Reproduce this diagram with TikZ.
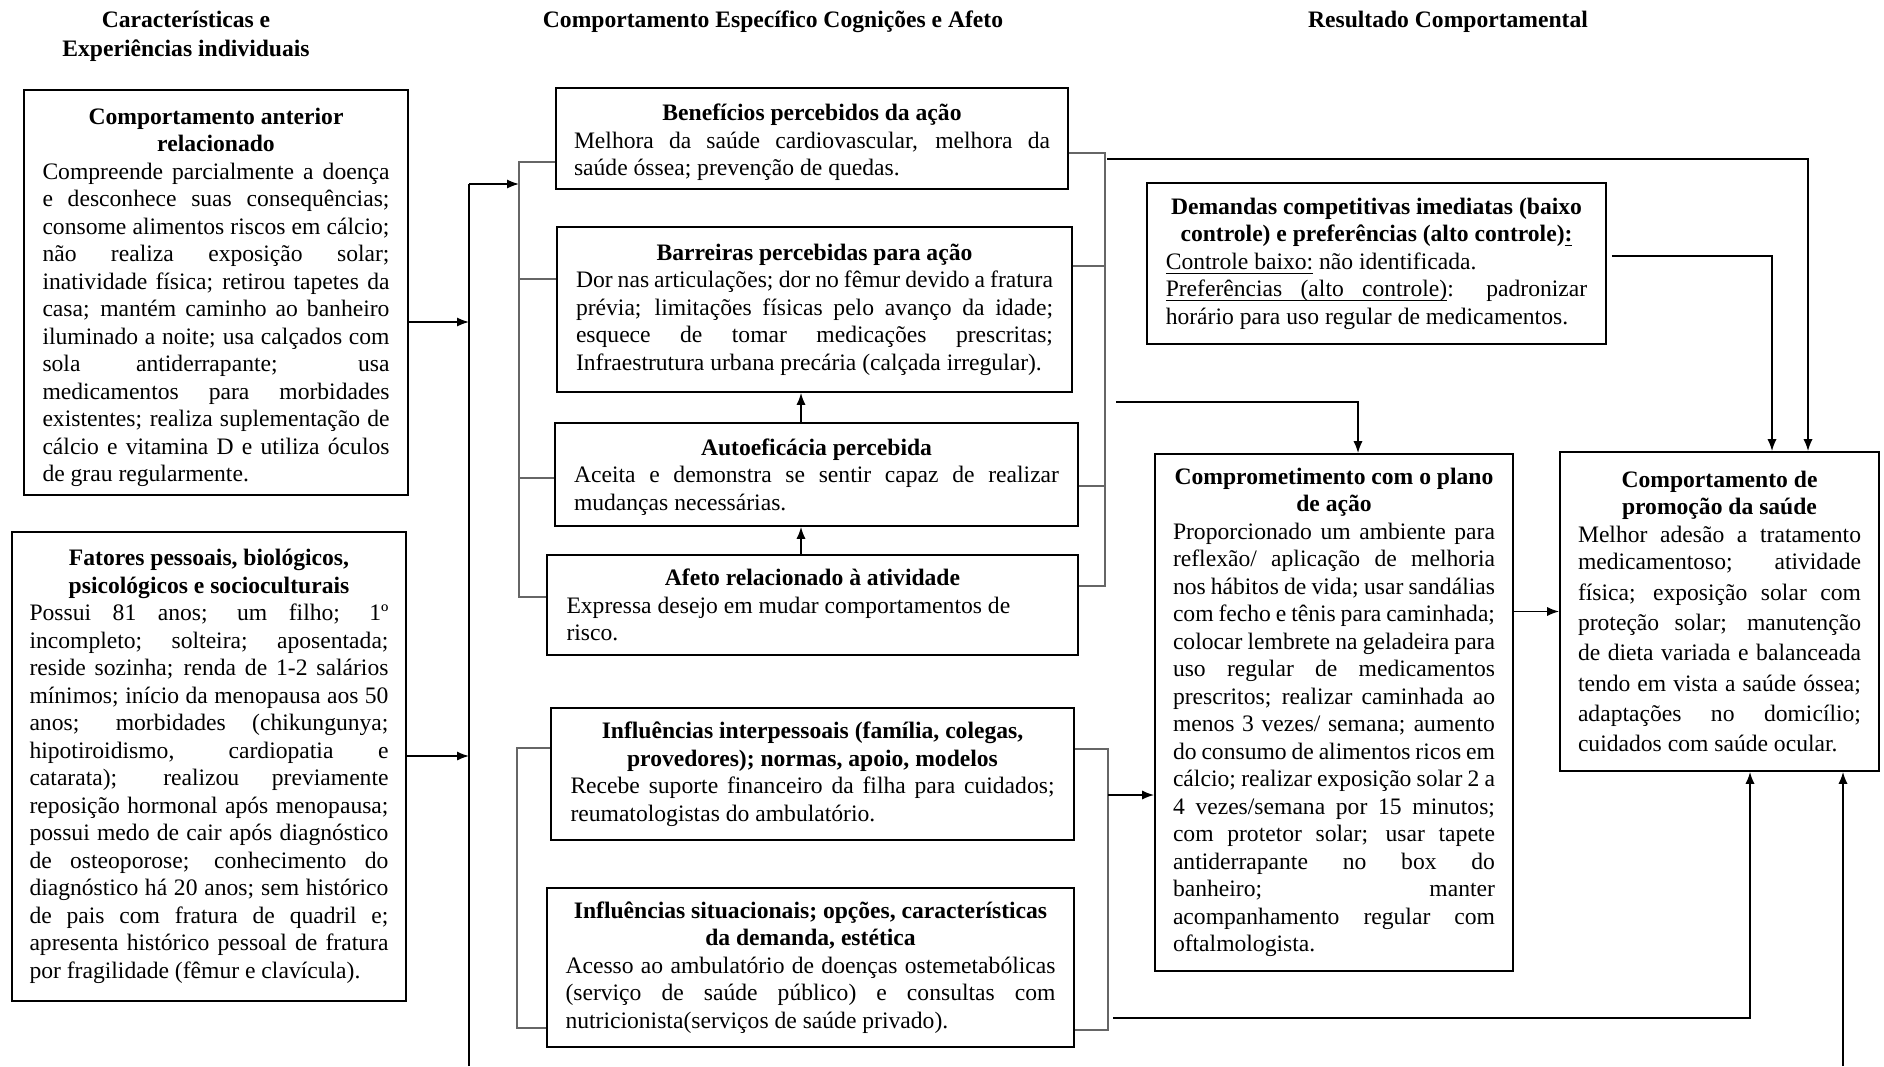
\documentclass[tikz,border=0pt]{standalone}
\usepackage{fontspec}
\setmainfont{Liberation Serif}
\usetikzlibrary{arrows.meta,calc}
\setlength{\parindent}{0pt}
\setlength{\parskip}{0pt}

% one line of a box: centred bold title line, or a line stretched to full width
\newcommand\ttline[1]{\makebox[\hsize][c]{\bfseries #1}}
\newcommand\jline[1]{\makebox[\hsize][s]{\spaceskip=0pt\xspaceskip=0pt #1}}
% underlined word at a fixed depth, and an underlined stretchable space
\newcommand\ulword[1]{\leavevmode\setbox0\hbox{#1}\rlap{\rule[-2.3pt]{\wd0}{0.55pt}}\box0\relax}
\newcommand\ulgap{\leavevmode\leaders\hrule height -1.75pt depth 2.3pt\hskip\fontdimen2\font plus\fontdimen3\font minus\fontdimen4\font\relax}

\tikzset{
  box/.style={draw=black, line width=0.9pt, inner sep=0pt, align=justify,
    font=\fontsize{11.8pt}{13.75pt}\selectfont},
  head/.style={inner sep=0pt, align=center,
    font=\fontsize{11.8pt}{14.5pt}\selectfont\bfseries},
  brk/.style={draw=black!60, line width=0.6pt},
  conn/.style={draw=black, line width=0.8pt},
  arr/.style={conn, -{Latex[length=6pt,width=4.6pt]}},
}

\begin{document}
\begin{tikzpicture}[x=0.5pt,y=-0.5pt]
\fill[white] (0,0) rectangle (1884,1066);
\useasboundingbox (0,0) rectangle (1884,1066);

% column headings
\node[head] (hdChar) at (186,36) {Características e\\Experiências individuais};
\node[head] (hdComp) at (773,21.5) {Comportamento Específico Cognições e Afeto};
\node[head] (hdRes) at (1448,21.5) {Resultado Comportamental};

% ---- left column
\node[box, text width=173.5pt, minimum width=192pt, minimum height=202.5pt] (antr) at (216,292.5) {%
\ttline{\rule{0pt}{12.8pt}Comportamento anterior}\\
\ttline{relacionado}\\
\jline{Compreende parcialmente a doença}\\
\jline{e desconhece suas consequências;}\\
\jline{consome alimentos riscos em cálcio;}\\
\jline{não realiza exposição solar;}\\
\jline{inatividade física; retirou tapetes da}\\
\jline{casa; mantém caminho ao banheiro}\\
\jline{iluminado a noite; usa calçados com}\\
\jline{sola antiderrapante; usa}\\
\jline{medicamentos para morbidades}\\
\jline{existentes; realiza suplementação de}\\
\jline{cálcio e vitamina D e utiliza óculos}\\
de grau regularmente.};

\node[box, text width=179.5pt, minimum width=197pt, minimum height=234.5pt] (fat) at (209,766.5) {%
\ttline{Fatores pessoais, biológicos,}\\
\ttline{psicológicos e socioculturais}\\
\jline{Possui 81 anos; um filho; 1º}\\
\jline{incompleto; solteira; aposentada;}\\
\jline{reside sozinha; renda de 1-2 salários}\\
\jline{mínimos; início da menopausa aos 50}\\
\jline{anos; morbidades (chikungunya;}\\
\jline{hipotiroidismo, cardiopatia e}\\
\jline{catarata); realizou previamente}\\
\jline{reposição hormonal após menopausa;}\\
\jline{possui medo de cair após diagnóstico}\\
\jline{de osteoporose; conhecimento do}\\
\jline{diagnóstico há 20 anos; sem histórico}\\
\jline{de pais com fratura de quadril e;}\\
\jline{apresenta histórico pessoal de fratura}\\
por fragilidade (fêmur e clavícula).};

% ---- middle column
\node[box, text width=238pt, minimum width=256pt, minimum height=50.5pt] (bene) at (812,138.5) {%
\ttline{\rule{0pt}{12.2pt}Benefícios percebidos da ação}\\
\jline{Melhora da saúde cardiovascular, melhora da}\\
saúde óssea; prevenção de quedas.};

\node[box, text width=238.5pt, minimum width=257.5pt, minimum height=82.5pt] (barr) at (814.5,309.5) {%
\ttline{Barreiras percebidas para ação}\\
\jline{Dor nas articulações; dor no fêmur devido a fratura}\\
\jline{prévia; limitações físicas pelo avanço da idade;}\\
\jline{esquece de tomar medicações prescritas;}\\
Infraestrutura urbana precária (calçada irregular).};

\node[box, text width=242.5pt, minimum width=261.5pt, minimum height=51.5pt] (auto) at (816.5,474.5) {%
\ttline{\rule{0pt}{11pt}Autoeficácia percebida}\\
\jline{Aceita e demonstra se sentir capaz de realizar}\\
mudanças necessárias.};

\node[box, text width=246pt, minimum width=265.5pt, minimum height=50pt] (afeto) at (812.5,605) {%
\ttline{Afeto relacionado à atividade}\\
Expressa desejo em mudar comportamentos de\\
risco.};

\node[box, text width=242pt, minimum width=261.5pt, minimum height=66pt] (infA) at (812.5,774) {%
\ttline{Influências interpessoais (família, colegas,}\\
\ttline{provedores); normas, apoio, modelos}\\
\jline{Recebe suporte financeiro da filha para cuidados;}\\
reumatologistas do ambulatório.};

\node[box, text width=245pt, minimum width=263.5pt, minimum height=79.5pt] (infB) at (810.5,967.5) {%
\ttline{Influências situacionais; opções, características}\\
\ttline{da demanda, estética}\\
\jline{Acesso ao ambulatório de doenças ostemetabólicas}\\
\jline{(serviço de saúde público) e consultas com}\\
nutricionista(serviços de saúde privado).};

% ---- right part
\node[box, text width=210.75pt, minimum width=229.5pt, minimum height=80.5pt] (dem) at (1376.5,263.5) {%
\ttline{Demandas competitivas imediatas (baixo}\\
\ttline{controle) e preferências (alto controle)\ulword{:}}\\
\ulword{Controle}\ulgap\ulword{baixo:} não identificada.\\
\jline{\ulword{Preferências}\ulgap\ulword{(alto}\ulgap\ulword{controle)}: padronizar}\\
horário para uso regular de medicamentos.};

\node[box, text width=161pt, minimum width=179pt, minimum height=258.5pt] (comp) at (1334,712.5) {%
\ttline{Comprometimento com o plano}\\
\ttline{de ação}\\
\jline{Proporcionado um ambiente para}\\
\jline{reflexão/ aplicação de melhoria}\\
\jline{nos hábitos de vida; usar sandálias}\\
\jline{com fecho e tênis para caminhada;}\\
\jline{colocar lembrete na geladeira para}\\
\jline{uso regular de medicamentos}\\
\jline{prescritos; realizar caminhada ao}\\
\jline{menos 3 vezes/ semana; aumento}\\
\jline{do consumo de alimentos ricos em}\\
\jline{cálcio; realizar exposição solar 2 a}\\
\jline{4 vezes/semana por 15 minutos;}\\
\jline{com protetor solar; usar tapete}\\
\jline{antiderrapante no box do}\\
\jline{banheiro; manter}\\
\jline{acompanhamento regular com}\\
oftalmologista.};

% the outcome box has a looser line pitch in its body
\node[box, text width=141.5pt, minimum width=159.5pt, minimum height=159.5pt] (promo) at (1719.5,611.5) {%
\ttline{Comportamento de}\\
\ttline{promoção da saúde}\\
\jline{Melhor adesão a tratamento}\\
\jline{medicamentoso; atividade}\\[1.4pt]
\jline{física; exposição solar com}\\[1.4pt]
\jline{proteção solar; manutenção}\\[1.4pt]
\jline{de dieta variada e balanceada}\\[1.4pt]
\jline{tendo em vista a saúde óssea;}\\[1.4pt]
\jline{adaptações no domicílio;}\\[1.4pt]
cuidados com saúde ocular.};

% ---- trunk collecting the two left boxes
\coordinate (trunkTop) at (469,184);
\coordinate (trunkBot) at (469,1066);
\coordinate (antrOut) at ($(antr.east)+(0,29.5)$);
\coordinate (fatOut) at ($(fat.east)+(0,-10.5)$);
\draw[conn] (trunkBot) -- (trunkTop);
\draw[arr] (antrOut) -- (antrOut -| trunkTop);
\draw[arr] (fatOut) -- (fatOut -| trunkTop);

% ---- brackets around the upper middle group
\coordinate (lbA) at (519,162);
\coordinate (lbB) at (519,279);
\coordinate (lbC) at (519,478);
\coordinate (lbD) at (519,597);
\draw[arr] (trunkTop) -- (trunkTop -| lbA);
\draw[brk] (bene.west |- lbA) -- (lbA) -- (lbD) -- (afeto.west |- lbD);
\draw[brk] (lbB) -- (barr.west |- lbB);
\draw[brk] (lbC) -- (auto.west |- lbC);

\coordinate (rbA) at (1105,153);
\coordinate (rbB) at (1105,266);
\coordinate (rbC) at (1105,486);
\coordinate (rbD) at (1105,586);
\draw[brk] (bene.east |- rbA) -- (rbA) -- (rbD) -- (afeto.east |- rbD);
\draw[brk] (barr.east |- rbB) -- (rbB);
\draw[brk] (auto.east |- rbC) -- (rbC);

% arrows inside the upper group
\coordinate (autoUp) at ($(auto.north)+(-15.5,0)$);
\coordinate (afetoUp) at ($(afeto.north)+(-11.5,0)$);
\draw[arr] (autoUp) -- (autoUp |- barr.south);
\draw[arr] (afetoUp) -- (afetoUp |- auto.south);

% ---- brackets around the lower middle group
\coordinate (lbE) at (517,748);
\coordinate (lbF) at (517,1028);
\draw[brk] (infA.west |- lbE) -- (lbE) -- (lbF) -- (infB.west |- lbF);
\coordinate (rbE) at (1108,749);
\coordinate (rbF) at (1108,1030);
\coordinate (rbM) at (1108,795);
\draw[brk] (infA.east |- rbE) -- (rbE) -- (rbF) -- (infB.east |- rbF);
\draw[arr] (rbM) -- (rbM -| comp.west);

% ---- runs towards the outcome boxes
\coordinate (promoInA) at ($(promo.north)+(52.5,0)$);
\coordinate (promoInB) at ($(promo.north)+(88.5,0)$);
\coordinate (promoInC) at ($(promo.south)+(30.5,0)$);
\coordinate (promoInD) at ($(promo.south)+(123.5,0)$);
\coordinate (compIn) at ($(comp.north)+(24,0)$);
\coordinate (topRun) at (1107,159);
\coordinate (planRun) at (1116,402);
\coordinate (lowRun) at (1113,1018);
\coordinate (edgeRun) at (1843,1066);
\coordinate (demOut) at ($(dem.east)+(5,-7.5)$);

\draw[arr] (topRun) -| (promoInB);
\draw[arr] (demOut) -| (promoInA);
\draw[arr] (planRun) -| (compIn);
\draw[arr] (comp.east |- promo.west) -- (promo.west);
\draw[arr] (lowRun) -| (promoInC);
\draw[arr] (edgeRun) -- (promoInD);
\end{tikzpicture}
\end{document}
